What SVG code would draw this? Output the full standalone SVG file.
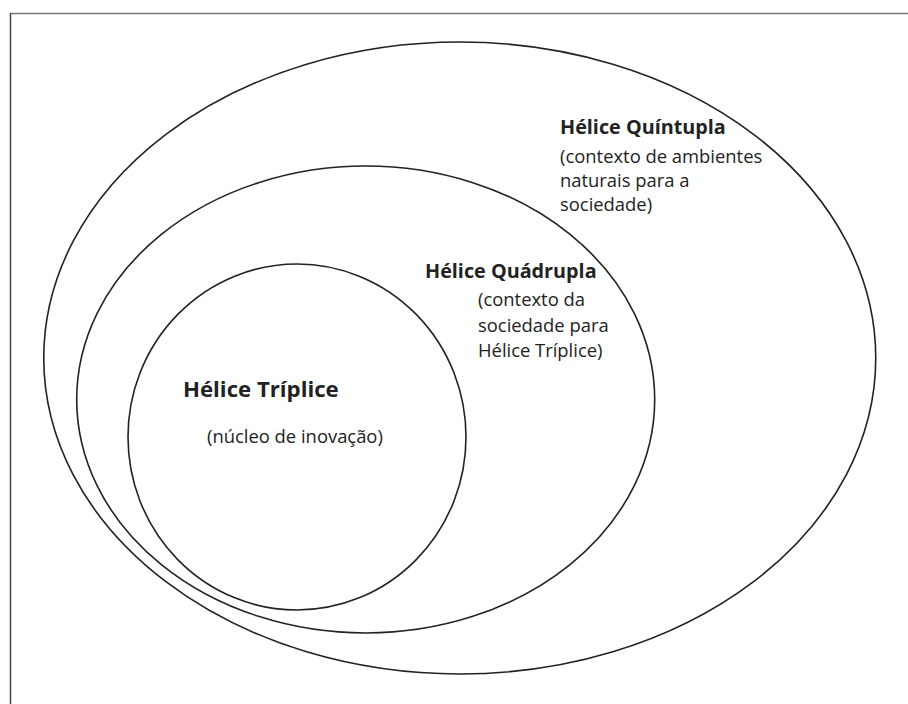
<svg xmlns="http://www.w3.org/2000/svg" width="908" height="704" viewBox="0 0 908 704">
<style>
.ring{fill:none;stroke:#222;stroke-width:1.6}
.t{font-family:"Open Sans","Noto Sans","DejaVu Sans",sans-serif;fill:#222}
.b{font-weight:bold;font-size:19.8px}
.n{font-size:18.4px}
</style>
<rect width="908" height="704" fill="#fff"/>
<line x1="10.5" y1="13.5" x2="908" y2="13.5" stroke="#777" stroke-width="1.5"/>
<line x1="10.5" y1="13" x2="10.5" y2="704" stroke="#444" stroke-width="1.5"/>
<g id="quintupla">
<ellipse class="ring" cx="459.75" cy="358" rx="416" ry="316"/>
<text class="t b" x="560" y="134">Hélice Quíntupla</text>
<text class="t n" x="560" y="163">(contexto de ambientes</text>
<text class="t n" x="560" y="187">naturais para a</text>
<text class="t n" x="560" y="211">sociedade)</text>
</g>
<g id="quadrupla">
<ellipse class="ring" cx="365.7" cy="399.5" rx="289" ry="233.5"/>
<text class="t b" x="425" y="278">Hélice Quádrupla</text>
<text class="t n" x="478" y="306">(contexto da</text>
<text class="t n" x="478" y="332">sociedade para</text>
<text class="t n" x="478" y="357">Hélice Tríplice)</text>
</g>
<g id="triplice">
<ellipse class="ring" cx="297" cy="437" rx="169" ry="173"/>
<text class="t b" x="183" y="397" style="font-size:22.2px">Hélice Tríplice</text>
<text class="t n" x="207" y="443">(núcleo de inovação)</text>
</g>
<g id="connectors"/>
</svg>
